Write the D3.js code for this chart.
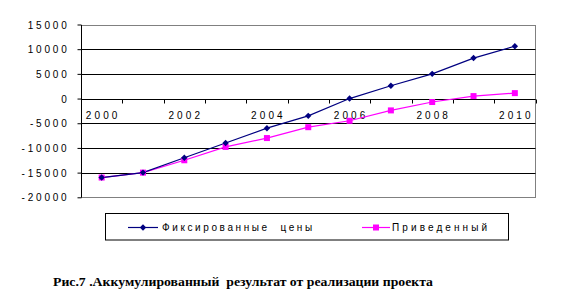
<!DOCTYPE html>
<html>
<head>
<meta charset="utf-8">
<script src="https://cdn.jsdelivr.net/npm/d3@7/dist/d3.min.js"></script>
<style>
  body { margin: 0; background: #fff; }
  svg { display: block; }
  text { font-family: "Liberation Sans", Arial, sans-serif; fill: #000; }
</style>
</head>
<body>
<svg id="chart"></svg>
<script>
const years = ["2000","2001","2002","2003","2004","2005","2006","2007","2008","2009","2010"];
const fixedPrices = [-16000,-15000,-12000,-9000,-6000,-3500,0,2600,5000,8200,10600];
const reduced = [-16000,-15000,-12500,-9800,-8000,-5800,-4500,-2400,-700,500,1100];
const yTicks = [15000,10000,5000,0,-5000,-10000,-15000,-20000];
const xLabels = ["2000","2002","2004","2006","2008","2010"];
const seriesNames = ["Фиксированные  цены", "Приведенный"];
const caption = "Рис.7 .Аккумулированный  результат от реализации проекта";

const W = 562, H = 295;
const pLeft = 81, pRight = 535.5, pTop = 24.5, pBottom = 197.3;

const svg = d3.select("#chart").attr("width", W).attr("height", H);

const x = d3.scaleBand().domain(years).range([pLeft, pRight]).padding(0);
const y = d3.scaleLinear().domain([-20000, 15000]).range([pBottom, pTop]);

// plot frame (grey) and gridlines
svg.append("rect")
  .attr("x", pLeft + 0.5).attr("y", Math.round(pTop) + 0.5)
  .attr("width", pRight - pLeft - 0.5).attr("height", Math.round(pBottom) - Math.round(pTop))
  .attr("fill", "none").attr("stroke", "#808080");

svg.append("g").selectAll("line")
  .data(yTicks.filter(d => d > -20000 && d < 15000))
  .join("line")
  .attr("x1", pLeft).attr("x2", pRight)
  .attr("y1", d => Math.round(y(d)) + 0.5).attr("y2", d => Math.round(y(d)) + 0.5)
  .attr("stroke", "#000");

// y axis
const yAxis = d3.axisLeft(y).tickValues(yTicks).tickSize(4).tickFormat(d => d);
const gy = svg.append("g").attr("transform", `translate(${pLeft + 0.5},0)`).call(yAxis);
gy.select(".domain").attr("stroke", "#000").attr("d", `M0,${Math.round(pTop)}V${Math.round(pBottom) + 0.5}`);
gy.selectAll(".tick line").attr("stroke", "#000");
gy.selectAll(".tick text")
  .attr("x", -12).attr("dy", "0.35em")
  .style("font-size", "10px").style("letter-spacing", "2.8px")
  .attr("font-family", null);

// x axis at zero with ticks between categories
const y0 = Math.round(y(0)) + 0.5;
const gx = svg.append("g");
gx.append("line").attr("x1", pLeft).attr("x2", pRight).attr("y1", y0).attr("y2", y0).attr("stroke", "#000");
gx.selectAll("line.tk")
  .data(years.slice(1).concat(["end"]))
  .join("line").attr("class", "tk")
  .attr("x1", (d, i) => Math.round(pLeft + x.bandwidth() * (i + 1)) + 0.5)
  .attr("x2", (d, i) => Math.round(pLeft + x.bandwidth() * (i + 1)) + 0.5)
  .attr("y1", y0).attr("y2", y0 + 4)
  .attr("stroke", "#000");
gx.selectAll("text")
  .data(xLabels)
  .join("text")
  .attr("x", d => x(d) + x.bandwidth() / 2 + 1.5)
  .attr("y", y0 + 19)
  .attr("text-anchor", "middle")
  .style("font-size", "10px").style("letter-spacing", "3.1px")
  .text(d => d);

// series
const line = d3.line().x((d, i) => x(years[i]) + x.bandwidth() / 2).y(d => y(d));

svg.append("path").datum(reduced).attr("d", line)
  .attr("fill", "none").attr("stroke", "#ff00ff").attr("stroke-width", 1.2);
svg.append("path").datum(fixedPrices).attr("d", line)
  .attr("fill", "none").attr("stroke", "#000080").attr("stroke-width", 1.2);

const diamond = s => `M0,${-s}L${s},0L0,${s}L${-s},0Z`;

svg.append("g").selectAll("rect")
  .data(reduced).join("rect")
  .attr("x", (d, i) => x(years[i]) + x.bandwidth() / 2 - 3)
  .attr("y", d => y(d) - 3)
  .attr("width", 6).attr("height", 6)
  .attr("fill", "#ff00ff");

svg.append("g").selectAll("path")
  .data(fixedPrices).join("path")
  .attr("transform", (d, i) => `translate(${x(years[i]) + x.bandwidth() / 2},${y(d)})`)
  .attr("d", diamond(3.2))
  .attr("fill", "#000080");

// legend
const lg = svg.append("g");
lg.append("rect").attr("x", 105.5).attr("y", 213.5).attr("width", 403).attr("height", 26.5)
  .attr("fill", "#fff").attr("stroke", "#000");
const ly = 227.5;
const items = [
  { name: seriesNames[0], color: "#000080", x1: 128, x2: 158, tx: 162, shape: "d", ls: 2.6 },
  { name: seriesNames[1], color: "#ff00ff", x1: 362, x2: 390, tx: 392, shape: "s", ls: 3.1 }
];
items.forEach(it => {
  lg.append("line").attr("x1", it.x1).attr("x2", it.x2).attr("y1", ly).attr("y2", ly)
    .attr("stroke", it.color).attr("stroke-width", 1.2);
  const mx = (it.x1 + it.x2) / 2;
  if (it.shape === "d") {
    lg.append("path").attr("transform", `translate(${mx},${ly})`).attr("d", diamond(3.2)).attr("fill", it.color);
  } else {
    lg.append("rect").attr("x", mx - 3).attr("y", ly - 3).attr("width", 6).attr("height", 6).attr("fill", it.color);
  }
  lg.append("text").attr("x", it.tx).attr("y", ly + 3.5)
    .style("font-size", "10px").style("letter-spacing", it.ls + "px").style("white-space", "pre")
    .text(it.name);
});

// caption
svg.append("text")
  .attr("x", 53).attr("y", 286)
  .attr("textLength", 380).attr("lengthAdjust", "spacingAndGlyphs")
  .style("font-family", "'Liberation Serif', 'Times New Roman', serif")
  .style("font-weight", "bold").style("font-size", "12px").style("white-space", "pre")
  .text(caption);
</script>
</body>
</html>
